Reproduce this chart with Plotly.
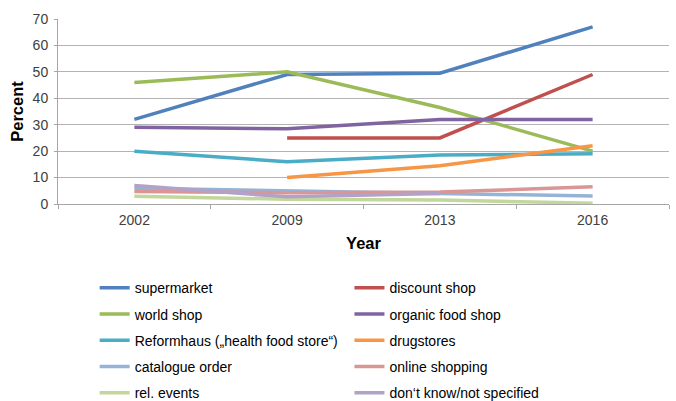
import plotly.graph_objects as go

years = ["2002", "2009", "2013", "2016"]
series_names = ["supermarket", "discount shop", "world shop", "organic food shop",
                "Reformhaus (\u201ehealth food store\u201c)", "drugstores", "catalogue order",
                "online shopping", "rel. events", "don\u2018t know/not specified"]
supermarket = [32, 49, 49.5, 67]
discount_shop = [None, 25, 25, 49]
world_shop = [46, 50, 36.5, 20]
organic_food_shop = [29, 28.5, 32, 32]
reformhaus = [20, 16, 18.5, 19]
drugstores = [None, 10, 14.5, 22]
catalogue_order = [6, 5, 4, 3]
online_shopping = [4.7, 4.3, 4.5, 6.5]
rel_events = [2.9, 1.8, 1.5, 0.3]
dont_know = [7, 2.7, 4, None]

values = [supermarket, discount_shop, world_shop, organic_food_shop, reformhaus,
          drugstores, catalogue_order, online_shopping, rel_events, dont_know]
colors = ["#4F81BD", "#C0504D", "#9BBB59", "#8064A2", "#4BACC6",
          "#F79646", "#95B3D7", "#D99694", "#C3D69B", "#B3A2C7"]

fig = go.Figure()
for i, (name, vals, col) in enumerate(zip(series_names, values, colors)):
    fig.add_trace(go.Scatter(
        x=years, y=vals, name=name, mode="lines",
        line=dict(color=col, width=3.5),
        connectgaps=False,
        legend="legend" if i % 2 == 0 else "legend2",
        legendgroup=name,
    ))

font_family = "Liberation Sans, Arial, sans-serif"
legend_common = dict(
    orientation="v", traceorder="grouped", tracegroupgap=5,
    font=dict(family=font_family, size=14, color="#000000"),
    bgcolor="rgba(0,0,0,0)", itemwidth=30,
    xanchor="left", yanchor="top", yref="paper", xref="paper",
)

fig.update_layout(
    width=676, height=401,
    margin=dict(l=58, r=7, t=19, b=197, autoexpand=False),
    paper_bgcolor="white", plot_bgcolor="white",
    font=dict(family=font_family, size=14, color="#333333"),
    showlegend=True,
    legend=dict(**legend_common, x=0.060, y=-0.369),
    legend2=dict(**legend_common, x=0.477, y=-0.369),
    xaxis=dict(
        type="category", range=[-0.5, 3.5],
        showline=True, linecolor="#A6A6A6", linewidth=1,
        ticks="outside", tickson="boundaries", ticklen=4, tickcolor="#A6A6A6",
        showgrid=False, zeroline=False, ticklabelstandoff=3,
        tickfont=dict(size=14, color="#404040"),
        title=dict(text="<b>Year</b>", font=dict(size=16.5, color="#000000"), standoff=10),
    ),
    yaxis=dict(
        range=[0, 70], dtick=10,
        showline=True, linecolor="#A6A6A6", linewidth=1,
        ticks="outside", ticklen=3, tickcolor="#A6A6A6",
        showgrid=True, gridcolor="#B3B3B3", gridwidth=1,
        zeroline=False, ticklabelstandoff=3,
        tickfont=dict(size=14, color="#404040"),
        title=dict(text="<b>Percent</b>", font=dict(size=16.5, color="#000000"), standoff=4),
    ),
)

fig.write_html("out.html", config={"displayModeBar": False},
               post_script="document.body.style.margin='0';")
